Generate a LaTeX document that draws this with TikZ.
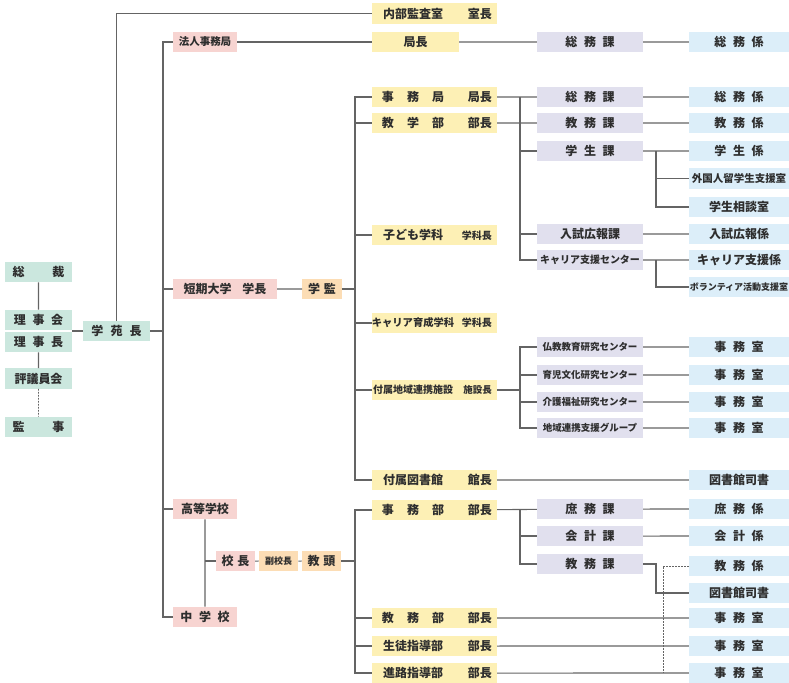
\documentclass[tikz,border=0pt]{standalone}
\usepackage{fontspec}
\setmainfont{Noto Sans CJK JP}
\usepackage{tikz}
\definecolor{grn}{HTML}{CBE7DE}
\definecolor{pnk}{HTML}{F7D4D1}
\definecolor{org}{HTML}{FCDDB5}
\definecolor{ylw}{HTML}{FDF0B5}
\definecolor{lav}{HTML}{E1E0EE}
\definecolor{blu}{HTML}{DCEEF9}
\definecolor{lnc}{HTML}{646464}
\definecolor{txc}{HTML}{2E2E2E}
\newcommand{\ks}{\hspace{0.55em}}
\newcommand{\kw}{\hspace{1.1em}}
\newcommand{\fs}[1]{\fontsize{#1}{#1}\selectfont}
\newcommand{\yl}[2]{\hspace*{4pt}\makebox[64pt][c]{#1}\hfill #2}

\begin{document}
\begin{tikzpicture}[scale=0.3515]
\tikzstyle{every node}+=[inner sep=0pt, text=txc, font=\fs{12}\bfseries]
\tikzstyle{box}=[rectangle, minimum height=20.5pt]
\tikzstyle{grnbox}=[box, fill=grn, minimum width=67pt]
\tikzstyle{pnkbox}=[box, fill=pnk, minimum width=64pt]
\tikzstyle{orgbox}=[box, fill=org, minimum width=39.5pt]
\tikzstyle{ylwbox}=[box, fill=ylw, text width=115pt, inner xsep=5pt]
\tikzstyle{lavbox}=[box, fill=lav, minimum width=106pt]
\tikzstyle{blubox}=[box, fill=blu, minimum width=100pt]
\tikzstyle{ln}=[lnc, line width=1.1pt]
\tikzstyle{dln}=[lnc, line width=0.8pt, dash pattern=on 1.6pt off 1.4pt]
\useasboundingbox (0,0) rectangle (78.9,-68.3);
\node [grnbox] (sosai) at (3.85,-27.2) {総\hspace{2.3em}裁};
\node [grnbox] (rijikai) at (3.85,-32.0) {理\ks 事\ks 会};
\node [grnbox] (rijicho) at (3.85,-34.2) {理\ks 事\ks 長};
\node [grnbox] (hyogi) at (3.85,-37.85) {評議員会};
\node [grnbox] (kanji) at (3.85,-42.7) {監\hspace{2.3em}事};
\node [grnbox] (gakuen) at (11.65,-33.1) {学\hspace{0.6em}苑\hspace{0.6em}長};
\node [pnkbox] (hojin) at (20.5,-4.2) {\fs{10.5}法人事務局};
\node [pnkbox, minimum width=104pt] (tanki) at (22.5,-28.9) {短期大学\hspace{0.9em}学長};
\node [pnkbox] (koto) at (20.5,-50.9) {高等学校};
\node [pnkbox] (chugaku) at (20.5,-61.7) {中\ks 学\ks 校};
\node [pnkbox, minimum width=39pt] (kocho) at (23.55,-56.1) {校\hspace{0.3em}長};
\node [orgbox] (gakkan) at (32.2,-28.9) {学\hspace{0.3em}監};
\node [orgbox] (fuku) at (27.85,-56.1) {\fs{9}副校長};
\node [orgbox] (kyoto) at (32.15,-56.1) {教\hspace{0.3em}頭};
\node [ylwbox] (naibu) at (43.45,-1.35) {\yl{内部監査室}{室長}};
\node [box, fill=ylw, minimum width=87pt] (kyokucho) at (41.55,-4.2) {局長};
\node [ylwbox] (jimukyoku) at (43.45,-9.7) {\yl{事\kw 務\kw 局}{局長}};
\node [ylwbox] (kyogaku) at (43.45,-12.3) {\yl{教\kw 学\kw 部}{部長}};
\node [ylwbox] (kodomo) at (43.45,-23.5) {\yl{子ども学科}{\fs{10}学科長}};
\node [ylwbox] (career) at (43.45,-32.3) {\yl{\fs{10.3}キャリア育成学科}{\fs{10}学科長}};
\node [ylwbox] (fuzoku) at (43.45,-39.0) {\yl{\fs{10}付属地域連携施設}{\fs{9.5}施設長}};
\node [ylwbox] (tosho) at (43.45,-48.0) {\yl{付属図書館}{館長}};
\node [ylwbox] (jimubu) at (43.45,-51.0) {\yl{事\kw 務\kw 部}{部長}};
\node [ylwbox] (kyomubu) at (43.45,-61.8) {\yl{教\kw 務\kw 部}{部長}};
\node [ylwbox] (seito) at (43.45,-64.6) {\yl{生徒指導部}{部長}};
\node [ylwbox] (shinro) at (43.45,-67.3) {\yl{進路指導部}{部長}};
\node [lavbox] (somuka1) at (59.0,-4.2) {総\ks 務\ks 課};
\node [lavbox] (somuka2) at (59.0,-9.7) {総\ks 務\ks 課};
\node [lavbox] (kyomuka) at (59.0,-12.3) {教\ks 務\ks 課};
\node [lavbox] (gakuseika) at (59.0,-15.1) {学\ks 生\ks 課};
\node [lavbox] (nyushika) at (59.0,-23.4) {入試広報課};
\node [lavbox] (careerc) at (59.0,-26.0) {\fs{10}キャリア支援センター};
\node [lavbox] (bukkyo) at (59.0,-34.7) {\fs{9.5}仏教教育研究センター};
\node [lavbox] (ikuji) at (59.0,-37.5) {\fs{9.5}育児文化研究センター};
\node [lavbox] (kaigo) at (59.0,-40.2) {\fs{9.5}介護福祉研究センター};
\node [lavbox] (chiiki) at (59.0,-42.8) {\fs{9.5}地域連携支援グループ};
\node [lavbox] (shomuka) at (59.0,-50.9) {庶\ks 務\ks 課};
\node [lavbox] (kaikeika) at (59.0,-53.6) {会\ks 計\ks 課};
\node [lavbox] (kyomuka2) at (59.0,-56.4) {教\ks 務\ks 課};
\node [blubox] (somukakari1) at (73.9,-4.2) {総\ks 務\ks 係};
\node [blubox] (somukakari2) at (73.9,-9.7) {総\ks 務\ks 係};
\node [blubox] (kyomukakari) at (73.9,-12.3) {教\ks 務\ks 係};
\node [blubox] (gakuseikakari) at (73.9,-15.1) {学\ks 生\ks 係};
\node [blubox] (gaikokujin) at (73.9,-17.85) {\fs{10.5}外国人留学生支援室};
\node [blubox] (sodan) at (73.9,-20.7) {学生相談室};
\node [blubox] (nyushikakari) at (73.9,-23.4) {入試広報係};
\node [blubox] (careerkakari) at (73.9,-26.0) {キャリア支援係};
\node [blubox] (volunteer) at (73.9,-28.7) {\fs{9}ボランティア活動支援室};
\node [blubox] (jimushitsu1) at (73.9,-34.7) {事\ks 務\ks 室};
\node [blubox] (jimushitsu2) at (73.9,-37.5) {事\ks 務\ks 室};
\node [blubox] (jimushitsu3) at (73.9,-40.2) {事\ks 務\ks 室};
\node [blubox] (jimushitsu4) at (73.9,-42.8) {事\ks 務\ks 室};
\node [blubox] (shisho1) at (73.9,-48.0) {図書館司書};
\node [blubox] (shomukakari) at (73.9,-50.9) {庶\ks 務\ks 係};
\node [blubox] (kaikeikakari) at (73.9,-53.6) {会\ks 計\ks 係};
\node [blubox] (kyomukakari2) at (73.9,-56.6) {教\ks 務\ks 係};
\node [blubox] (shisho2) at (73.9,-59.3) {図書館司書};
\node [blubox] (jimushitsu5) at (73.9,-61.8) {事\ks 務\ks 室};
\node [blubox] (jimushitsu6) at (73.9,-64.6) {事\ks 務\ks 室};
\node [blubox] (jimushitsu7) at (73.9,-67.3) {事\ks 務\ks 室};
\coordinate (busA) at (16.3,0);
\coordinate (busB) at (35.5,0);
\coordinate (busC) at (52.0,0);
\coordinate (busD) at (65.6,0);
\coordinate (busE) at (66.3,0);
\draw [ln] (sosai) -- (rijikai);
\draw [ln] (rijicho) -- (hyogi);
\draw [dln] (hyogi) -- (kanji);
\draw [ln] (gakuen.west) -- (gakuen.west -| rijicho.east);
\draw [ln] (gakuen.north) |- (naibu.west);
\draw [ln] (gakuen.east) -- (gakuen.east -| busA);
\draw [ln] (hojin.west) -- (hojin.west -| busA) -- (chugaku.west -| busA) -- (chugaku.west);
\draw [ln] (tanki.west) -- (tanki.west -| busA);
\draw [ln] (koto.west) -- (koto.west -| busA);
\draw [ln] (hojin) -- (kyokucho);
\draw [ln] (kyokucho) -- (somuka1);
\draw [ln] (somuka1) -- (somukakari1);
\draw [ln] (tanki) -- (gakkan);
\draw [ln] (gakkan.east) -- (gakkan.east -| busB);
\draw [ln] (jimukyoku.west) -- (jimukyoku.west -| busB) -- (tosho.west -| busB) -- (tosho.west);
\draw [ln] (kyogaku.west) -- (kyogaku.west -| busB);
\draw [ln] (kodomo.west) -- (kodomo.west -| busB);
\draw [ln] (career.west) -- (career.west -| busB);
\draw [ln] (fuzoku.west) -- (fuzoku.west -| busB);
\draw [ln] (koto) -- (chugaku);
\draw [ln] (kocho.west) -- (kocho.west -| koto.south);
\draw [ln] (kocho) -- (fuku);
\draw [ln] (fuku) -- (kyoto);
\draw [ln] (kyoto.east) -- (kyoto.east -| busB);
\draw [ln] (jimubu.west) -- (jimubu.west -| busB) -- (shinro.west -| busB) -- (shinro.west);
\draw [ln] (kyomubu.west) -- (kyomubu.west -| busB);
\draw [ln] (seito.west) -- (seito.west -| busB);
\draw [ln] (jimukyoku) -- (somuka2);
\draw [ln] (kyogaku) -- (kyomuka);
\draw [ln] (jimukyoku.east -| busC) -- (careerc.west -| busC) -- (careerc.west);
\draw [ln] (gakuseika.west) -- (gakuseika.west -| busC);
\draw [ln] (nyushika.west) -- (nyushika.west -| busC);
\draw [ln] (fuzoku.east) -- (fuzoku.east -| busC);
\draw [ln] (bukkyo.west) -- (bukkyo.west -| busC) -- (chiiki.west -| busC) -- (chiiki.west);
\draw [ln] (ikuji.west) -- (ikuji.west -| busC);
\draw [ln] (kaigo.west) -- (kaigo.west -| busC);
\draw [ln] (tosho) -- (shisho1);
\draw [ln] (jimubu) -- (shomuka);
\draw [ln] (jimubu.east -| busC) -- (kyomuka2.west -| busC) -- (kyomuka2.west);
\draw [ln] (kaikeika.west) -- (kaikeika.west -| busC);
\draw [ln] (kyomubu) -- (jimushitsu5);
\draw [ln] (seito) -- (jimushitsu6);
\draw [ln] (shinro) -- (jimushitsu7);
\draw [ln] (somuka2) -- (somukakari2);
\draw [ln] (kyomuka) -- (kyomukakari);
\draw [ln] (nyushika) -- (nyushikakari);
\draw [ln] (bukkyo) -- (jimushitsu1);
\draw [ln] (ikuji) -- (jimushitsu2);
\draw [ln] (kaigo) -- (jimushitsu3);
\draw [ln] (chiiki) -- (jimushitsu4);
\draw [ln] (shomuka) -- (shomukakari);
\draw [ln] (kaikeika) -- (kaikeikakari);
\draw [ln] (gakuseika) -- (gakuseikakari);
\draw [ln] (gakuseika.east -| busD) -- (sodan.west -| busD) -- (sodan.west);
\draw [ln] (gaikokujin.west) -- (gaikokujin.west -| busD);
\draw [ln] (careerc) -- (careerkakari);
\draw [ln] (careerc.east -| busD) -- (volunteer.west -| busD) -- (volunteer.west);
\draw [ln] (kyomuka2.east) -- (kyomuka2.east -| busD) -- (shisho2.west -| busD) -- (shisho2.west);
\draw [dln] (kyomukakari2.west) -- (kyomukakari2.west -| busE) -- (shinro.east -| busE);
\end{tikzpicture}
\end{document}
